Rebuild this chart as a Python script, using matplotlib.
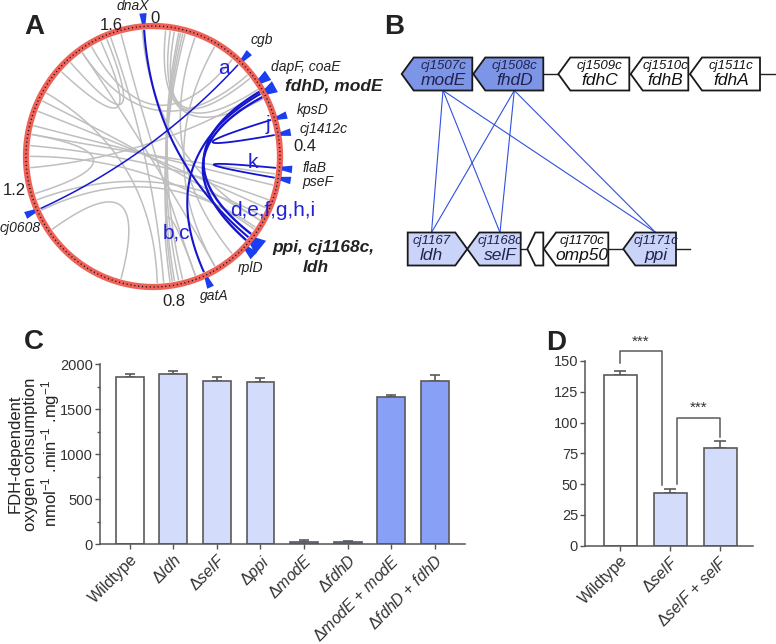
import numpy as np
import matplotlib
matplotlib.use("Agg")
import matplotlib.pyplot as plt
from matplotlib.patches import Polygon

plt.rcParams['font.family'] = ['Liberation Sans', 'DejaVu Sans']
plt.rcParams['mathtext.fontset'] = 'custom'
plt.rcParams['mathtext.rm'] = 'Liberation Sans'
plt.rcParams['mathtext.it'] = 'Liberation Sans:italic'
plt.rcParams['mathtext.bf'] = 'Liberation Sans:bold'

# ---------------- panel A data (genome positions in Mb) ----------------
GENOME = 1.69
START_DEG = 1.0
ring_ticks = [0, 0.4, 0.8, 1.2, 1.6]
ring_tick_text = ['0', '0.4', '0.8', '1.2', '1.6']

marker_names = ['dnaX', 'cgb', 'dapF', 'fdhD', 'kpsD', 'cj1412c', 'flaB',
                'pseF', 'ppi', 'rplD', 'gatA', 'cj0608']
marker_pos = [1.666, 0.200, 0.256, 0.281, 0.339, 0.372, 0.442,
              0.463, 0.603, 0.623, 0.726, 1.149]
marker_width = [3, 3, 4.5, 5, 3, 3, 3, 3, 7, 4, 3, 3]   # degrees

# blue links (pairs of positions)
blue_links = [(0.200, 1.149), (1.666, 0.603), (0.279, 0.726),
              (0.274, 0.594), (0.287, 0.611), (0.339, 0.372), (0.442, 0.463)]
blue_lw = [1.1, 1.5, 1.5, 1.7, 1.7, 1.3, 1.3]

gray_links = [(0.052, 0.784), (0.061, 0.793), (0.066, 0.798), (0.056, 0.775),
              (0.033, 0.268), (0.023, 0.291), (0.042, 0.239),
              (1.460, 1.568), (1.488, 1.582),
              (1.361, 0.530), (1.329, 0.479), (1.385, 0.559), (1.310, 0.455),
              (1.183, 1.310), (1.169, 0.549), (1.145, 0.577),
              (0.746, 0.803), (1.591, 0.817), (1.615, 0.746), (1.521, 0.699),
              (1.404, 0.831), (0.136, 0.699), (0.089, 0.653), (1.098, 0.911),
              (1.263, 0.582), (1.662, 0.559), (1.521, 0.230), (1.545, 0.183),
              (1.239, 0.277), (1.286, 0.512)]

# ---------------- panel B data ----------------
top_genes = [('cj1507c', 'modE', 401.7, 472.3, 'L', 'dark'),
             ('cj1508c', 'fhdD', 473.3, 543.3, 'L', 'dark'),
             ('cj1509c', 'fdhC', 558.3, 629.3, 'L', 'none'),
             ('cj1510c', 'fdhB', 630.7, 688.3, 'L', 'none'),
             ('cj1511c', 'fdhA', 690.0, 760.0, 'L', 'none')]
bottom_genes = [('cj1167', 'ldh', 407.7, 467.3, 'R', 'light'),
                ('cj1168c', 'selF', 467.3, 520.7, 'L', 'light'),
                ('', '', 527.3, 543.3, 'L', 'none'),
                ('cj1170c', 'omp50', 544.0, 608.3, 'L', 'none'),
                ('cj1171c', 'ppi', 623.3, 676.0, 'L', 'light')]
gene_links_from = ['modE', 'fhdD']
gene_links_to = ['ldh', 'selF', 'ppi']

# ---------------- panel C data ----------------
c_labels = ['Wildtype', r'$\Delta\mathit{ldh}$', r'$\Delta\mathit{selF}$',
            r'$\Delta\mathit{ppi}$', r'$\Delta\mathit{modE}$', r'$\Delta\mathit{fdhD}$',
            r'$\Delta\mathit{modE}$ + $\mathit{modE}$',
            r'$\Delta\mathit{fdhD}$ + $\mathit{fdhD}$']
c_values = [1855, 1892, 1811, 1800, 29, 22, 1633, 1811]
c_errors = [30, 33, 44, 40, 19, 11, 26, 66]

# ---------------- panel D data ----------------
d_labels = ['Wildtype', r'$\Delta\mathit{selF}$', r'$\Delta\mathit{selF}$ + $\mathit{selF}$']
d_values = [138.5, 42.4, 79.3]
d_errors = [3.5, 3.3, 5.4]
d_pairs = [(0, 1), (1, 2)]
d_bracket_top = [158, 104]
d_leg_bottom = [(148, 49), (50, 88)]

WHITE = '#ffffff'
LIGHT = '#d3ddfb'
MID = '#7f95e4'
BRIGHT = '#88a1f6'
DARK_B = '#7d95e6'
EDGE = '#5a5a5a'
BLUE = '#1515d0'

fig = plt.figure(figsize=(7.76, 6.44), dpi=100)
ov = fig.add_axes([0, 0, 1, 1])
ov.set_xlim(0, 776)
ov.set_ylim(644, 0)
ov.axis('off')

CX, CY, RX, RY = 153, 156.5, 127, 130.5


def xy(pos, r):
    a = np.radians(START_DEG + np.asarray(pos) / GENOME * 360.0)
    return CX + RX * r * np.sin(a), CY - RY * r * np.cos(a)


def link(p1, p2, r=0.965):
    t = np.linspace(0, 1, 100)
    x0, y0 = xy(p1, r)
    x2, y2 = xy(p2, r)
    x = (1 - t) ** 2 * x0 + 2 * (1 - t) * t * CX + t ** 2 * x2
    y = (1 - t) ** 2 * y0 + 2 * (1 - t) * t * CY + t ** 2 * y2
    return x, y


for p1, p2 in gray_links:
    ov.plot(*link(p1, p2), color='#bfbfbf', lw=1.1, zorder=1)
for (p1, p2), lw in zip(blue_links, blue_lw):
    ov.plot(*link(p1, p2), color=BLUE, lw=lw, zorder=2)

th = np.linspace(0, GENOME, 500)
ov.plot(*xy(th, 1.0), color='#ef6259', lw=4.5, zorder=3)
ov.plot(*xy(th, 1.0), color='#111111', lw=1.0, dashes=(0.8, 2.0), zorder=4)

for name, pos, w in zip(marker_names, marker_pos, marker_width):
    hw = w / 360.0 * GENOME / 2
    pts = [xy(pos - hw * 0.55, 1.02), xy(pos + hw * 0.55, 1.02),
           xy(pos + hw, 1.10), xy(pos - hw, 1.10)]
    ov.add_patch(Polygon(pts, closed=True, color='#1a3ef0', lw=0, zorder=5))

tick_r = [1.06, 1.2, 1.12, 1.12, 1.06]
for v, s, r in zip(ring_ticks, ring_tick_text, tick_r):
    x, y = xy(v, r)
    ov.text(x, y, s, fontsize=12, color='#222222', ha='center', va='center')

gene_text = [('dnaX', 133, 6, 'center', False), ('cgb', 251, 40, 'left', False),
             ('dapF, coaE', 271, 67, 'left', False), ('fdhD, modE', 285, 86, 'left', True),
             ('kpsD', 297, 110, 'left', False), ('cj1412c', 300, 129, 'left', False),
             ('flaB', 303, 168, 'left', False), ('pseF', 302, 182, 'left', False),
             ('ppi, cj1168c,', 272, 247, 'left', True), ('ldh', 303, 267, 'left', True),
             ('rplD', 251, 268, 'center', False), ('gatA', 200, 296, 'left', False),
             ('cj0608', 20, 228, 'center', False)]
for s, x, y, ha, bold in gene_text:
    ov.text(x, y, s, fontsize=12.5 if bold else 10, style='italic',
            fontweight='bold' if bold else 'normal', color='#222222',
            ha=ha, va='center', zorder=6)

for s, x, y in [('a', 224, 68), ('j', 268, 124), ('k', 253, 162),
                ('d,e,f,g,h,i', 273, 210), ('b,c', 176, 233)]:
    ov.text(x, y, s, fontsize=15, color='#2020dd', ha='center', va='center', zorder=6)

# ---------------- panel B drawing ----------------
fills = {'dark': DARK_B, 'light': '#c9d4f8', 'none': 'white'}


def draw_row(genes, y0, y1, line_to):
    ym = (y0 + y1) / 2
    ov.plot([genes[0][3], line_to], [ym, ym], color='#222222', lw=1.0, zorder=1)
    centers = {}
    for small, name, left, right, d, f in genes:
        head = min(12, (right - left) * 0.5)
        if d == 'L':
            pts = [(left, ym), (left + head, y0), (right, y0), (right, y1), (left + head, y1)]
            cx = (left + head + right) / 2
        else:
            pts = [(left, y0), (right - head, y0), (right, ym), (right - head, y1), (left, y1)]
            cx = (left + right - head) / 2
        ov.add_patch(Polygon(pts, closed=True, facecolor=fills[f], edgecolor='#1a1a1a',
                             lw=1.3, zorder=3, joinstyle='miter'))
        tc = '#222250' if f != 'none' else '#111111'
        ov.text(cx, y0 + 8, small, fontsize=9.5, style='italic', color=tc,
                ha='center', va='center', zorder=4)
        ov.text(cx, y0 + 23, name, fontsize=12.5, style='italic', color=tc,
                ha='center', va='center', zorder=4)
        centers[name] = cx
    return centers


top_c = draw_row(top_genes, 57.5, 90.5, 776)
bot_c = draw_row(bottom_genes, 232.5, 265.5, 690)
for a in gene_links_from:
    for b in gene_links_to:
        ov.plot([top_c[a], bot_c[b]], [90.5, 232.5], color='#3050e0', lw=0.8, zorder=2)

# panel letters
for s, x, y in [('A', 24, 27), ('B', 384, 27), ('C', 24, 342), ('D', 546, 343)]:
    ov.text(x, y, s, fontsize=20, fontweight='bold', color='#222222', ha='left', va='center')

# ---------------- panel C ----------------
c_colors = [WHITE, LIGHT, LIGHT, LIGHT, MID, MID, BRIGHT, BRIGHT]
axC = fig.add_axes([100 / 776, (644 - 544.3) / 644, 365 / 776, 180.3 / 644])
xc = np.arange(len(c_values))
axC.bar(xc, c_values, width=0.64, color=c_colors, edgecolor=EDGE, lw=1.2, zorder=2)
axC.errorbar(xc, c_values, yerr=[np.zeros(len(c_errors)), c_errors], fmt='none',
             ecolor=EDGE, elinewidth=1.2, capsize=3.5, capthick=1.2, zorder=1)
axC.set_xlim(-0.68, 7.69)
axC.set_ylim(0, 2000)
axC.set_yticks([0, 500, 1000, 1500, 2000])
axC.set_yticks(np.arange(250, 2000, 500), minor=True)
axC.set_xticks(xc)
axC.set_xticklabels(c_labels, rotation=45, ha='right', rotation_mode='anchor', fontsize=11.5)
fig.text(35 / 776, 1 - 454 / 644,
         'FDH-dependent\noxygen consumption\nnmol$^{-1}$ .min$^{-1}$ .mg$^{-1}$',
         rotation=90, ha='center', va='center', multialignment='center',
         linespacing=1.05, fontsize=12, color='#222222')

# ---------------- panel D ----------------
d_colors = [WHITE, LIGHT, LIGHT]
axD = fig.add_axes([585 / 776, (644 - 545.5) / 644, 168 / 776, 184.5 / 644])
xd = np.arange(len(d_values))
axD.bar(xd, d_values, width=0.66, color=d_colors, edgecolor=EDGE, lw=1.2, zorder=2)
axD.errorbar(xd, d_values, yerr=[np.zeros(len(d_errors)), d_errors], fmt='none',
             ecolor=EDGE, elinewidth=1.2, capsize=4, capthick=1.2, zorder=1)
axD.set_xlim(-0.7, 2.66)
axD.set_ylim(0, 150)
axD.set_yticks(np.arange(0, 151, 25))
axD.set_xticks(xd)
axD.set_xticklabels(d_labels, rotation=45, ha='right', rotation_mode='anchor', fontsize=11.5)
shift = [(0, -0.16), (0.14, 0)]
for (i, j), top, (yb1, yb2), (s1, s2) in zip(d_pairs, d_bracket_top, d_leg_bottom, shift):
    axD.plot([i + s1, i + s1, j + s2, j + s2], [yb1, top, top, yb2], color=EDGE,
             lw=1.1, clip_on=False)
    axD.text((i + s1 + j + s2) / 2, top + 2, '***', ha='center', va='bottom',
             fontsize=11, color='#333333', clip_on=False)

for ax in (axC, axD):
    for sp in ('top', 'right'):
        ax.spines[sp].set_visible(False)
    for sp in ('left', 'bottom'):
        ax.spines[sp].set_color('#555555')
        ax.spines[sp].set_linewidth(1.1)
    ax.set_facecolor('none')
    ax.tick_params(which='both', direction='out', color='#555555', width=1.0,
                   labelcolor='#333333')
    ax.tick_params(which='major', length=3.5)
    ax.tick_params(which='minor', length=2.5)
    ax.tick_params(axis='y', labelsize=10.5, pad=1.5)
    ax.tick_params(axis='x', pad=2)

fig.savefig('out.png', dpi=100)
